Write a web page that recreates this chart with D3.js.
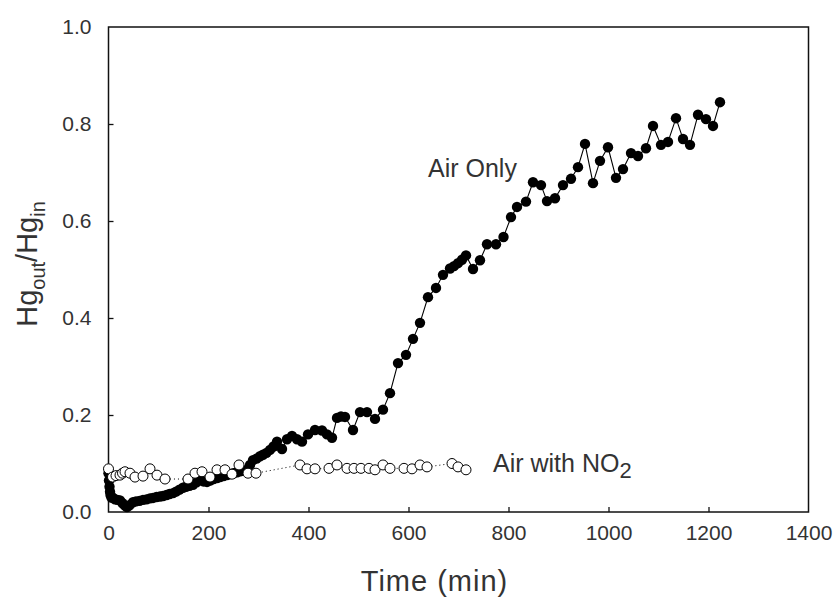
<!DOCTYPE html>
<html>
<head>
<meta charset="utf-8">
<script src="https://cdn.jsdelivr.net/npm/d3@7"></script>
<style>
  body { margin: 0; background: #fff; }
  svg text { font-family: Arial, "Liberation Sans", sans-serif; fill: #333; }
</style>
</head>
<body>
<div id="chart"></div>
<script>
// Air only (filled markers, solid line)
const airTime = [0, 1, 2, 3, 4, 6, 9, 13, 18, 23, 28, 33, 37, 42, 49, 55, 62, 69, 76, 83, 89, 96, 103, 109, 116, 122, 129, 135, 142, 149, 155, 162, 169, 176, 183, 190, 197, 203, 210, 217, 223, 230, 237, 243, 250, 257, 263, 270, 277, 283, 289, 296, 303, 309, 316, 323, 330, 337, 347, 357, 367, 377, 387, 399, 413, 427, 437, 447, 457, 465, 473, 489, 503, 517, 533, 549, 563, 579, 595, 609, 623, 639, 655, 669, 683, 691, 699, 707, 715, 729, 743, 757, 775, 790, 805, 817, 835, 849, 865, 877, 893, 909, 925, 939, 953, 969, 983, 999, 1015, 1029, 1045, 1059, 1075, 1089, 1105, 1119, 1135, 1149, 1163, 1179, 1195, 1209, 1223];
const airValue = [0.08, 0.065, 0.052, 0.042, 0.035, 0.03, 0.029, 0.026, 0.025, 0.024, 0.018, 0.013, 0.01, 0.014, 0.02, 0.022, 0.023, 0.025, 0.026, 0.028, 0.029, 0.031, 0.032, 0.033, 0.035, 0.037, 0.039, 0.042, 0.046, 0.05, 0.052, 0.054, 0.056, 0.061, 0.066, 0.063, 0.062, 0.065, 0.068, 0.07, 0.072, 0.074, 0.076, 0.078, 0.08, 0.082, 0.084, 0.085, 0.087, 0.097, 0.107, 0.11, 0.115, 0.118, 0.122, 0.128, 0.135, 0.145, 0.13, 0.15, 0.157, 0.15, 0.145, 0.16, 0.169, 0.168, 0.16, 0.153, 0.194, 0.197, 0.196, 0.169, 0.206, 0.206, 0.192, 0.211, 0.245, 0.307, 0.324, 0.357, 0.39, 0.443, 0.462, 0.489, 0.502, 0.507, 0.513, 0.52, 0.529, 0.501, 0.519, 0.552, 0.552, 0.567, 0.608, 0.629, 0.64, 0.68, 0.674, 0.641, 0.647, 0.674, 0.687, 0.711, 0.759, 0.678, 0.724, 0.752, 0.689, 0.707, 0.74, 0.734, 0.75, 0.796, 0.757, 0.763, 0.812, 0.769, 0.757, 0.819, 0.81, 0.796, 0.845];

// Air with NO2 (open markers, dotted line)
const no2Time = [0, 8, 15, 23, 28, 33, 43, 53, 69, 83, 97, 113, 159, 173, 187, 203, 217, 233, 247, 261, 279, 295, 383, 397, 413, 441, 457, 477, 491, 505, 521, 533, 549, 563, 591, 607, 623, 637, 687, 699, 715];
const no2Value = [0.089, 0.072, 0.075, 0.076, 0.08, 0.083, 0.08, 0.072, 0.074, 0.089, 0.076, 0.068, 0.068, 0.08, 0.083, 0.072, 0.087, 0.087, 0.078, 0.097, 0.08, 0.08, 0.097, 0.089, 0.089, 0.09, 0.097, 0.09, 0.09, 0.09, 0.09, 0.087, 0.097, 0.09, 0.09, 0.089, 0.097, 0.093, 0.1, 0.093, 0.087];

const xTicks = [0, 200, 400, 600, 800, 1000, 1200, 1400];
const yTicks = [0.0, 0.2, 0.4, 0.6, 0.8, 1.0];

const width = 836, height = 599;
const plot = { left: 108.5, right: 808.5, top: 27, bottom: 512 };

const svg = d3.select("#chart").append("svg")
    .attr("width", width)
    .attr("height", height);

const x = d3.scaleLinear().domain([0, 1400]).range([plot.left, plot.right]);
const y = d3.scaleLinear().domain([0, 1]).range([plot.bottom, plot.top]);

const airData = airTime.map((t, i) => ({ t: t, v: airValue[i] }));
const no2Data = no2Time.map((t, i) => ({ t: t, v: no2Value[i] }));

// frame
svg.append("rect")
    .attr("x", plot.left)
    .attr("y", plot.top)
    .attr("width", plot.right - plot.left)
    .attr("height", plot.bottom - plot.top)
    .attr("fill", "none")
    .attr("stroke", "#111")
    .attr("stroke-width", 1.5);

// x axis: inward ticks, labels below
const xAxis = svg.append("g")
    .attr("transform", `translate(0,${plot.bottom})`)
    .call(d3.axisBottom(x).tickValues(xTicks).tickSizeInner(-5).tickSizeOuter(0).tickPadding(13)
        .tickFormat(d3.format("d")));
xAxis.select(".domain").remove();
xAxis.selectAll(".tick line").attr("stroke", "#111").attr("stroke-width", 1.3)
    .filter(d => d === 0 || d === 1400).remove();
xAxis.selectAll(".tick text").style("font-size", "21px").attr("fill", "#333");

// y axis
const yAxis = svg.append("g")
    .attr("transform", `translate(${plot.left},0)`)
    .call(d3.axisLeft(y).tickValues(yTicks).tickSizeInner(-5).tickSizeOuter(0).tickPadding(17)
        .tickFormat(d3.format(".1f")));
yAxis.select(".domain").remove();
yAxis.selectAll(".tick line").attr("stroke", "#111").attr("stroke-width", 1.3)
    .filter(d => d === 0 || d === 1).remove();
yAxis.selectAll(".tick text").style("font-size", "21px").attr("fill", "#333");

// lines
const line = d3.line().x(d => x(d.t)).y(d => y(d.v));

svg.append("path")
    .datum(airData)
    .attr("d", line)
    .attr("fill", "none")
    .attr("stroke", "#000")
    .attr("stroke-width", 1.1);

svg.append("path")
    .datum(no2Data)
    .attr("d", line)
    .attr("fill", "none")
    .attr("stroke", "#000")
    .attr("stroke-width", 1)
    .attr("stroke-dasharray", "1,3");

// markers
svg.append("g").selectAll("circle")
    .data(airData)
    .join("circle")
    .attr("cx", d => x(d.t))
    .attr("cy", d => y(d.v))
    .attr("r", 5.2)
    .attr("fill", "#000");

svg.append("g").selectAll("circle")
    .data(no2Data)
    .join("circle")
    .attr("cx", d => x(d.t))
    .attr("cy", d => y(d.v))
    .attr("r", 5)
    .attr("fill", "#fff")
    .attr("stroke", "#000")
    .attr("stroke-width", 1);

// annotations
svg.append("text")
    .attr("x", 428)
    .attr("y", 177)
    .style("font-size", "25px")
    .text("Air Only");

const no2Label = svg.append("text")
    .attr("x", 493)
    .attr("y", 472)
    .style("font-size", "25px");
no2Label.append("tspan").text("Air with NO");
no2Label.append("tspan").attr("dy", 6).style("font-size", "22px").text("2");

// axis titles
svg.append("text")
    .attr("x", (plot.left + plot.right) / 2 - 24)
    .attr("y", 591)
    .attr("text-anchor", "middle")
    .style("font-size", "29px")
    .style("letter-spacing", "1px")
    .text("Time (min)");

const yTitle = svg.append("text")
    .attr("transform", "translate(37,264) rotate(-90)")
    .attr("text-anchor", "middle")
    .style("font-size", "29px");
yTitle.append("tspan").text("Hg");
yTitle.append("tspan").attr("dy", 8).style("font-size", "20px").text("out");
yTitle.append("tspan").attr("dy", -8).text("/Hg");
yTitle.append("tspan").attr("dy", 8).style("font-size", "20px").text("in");
</script>
</body>
</html>
